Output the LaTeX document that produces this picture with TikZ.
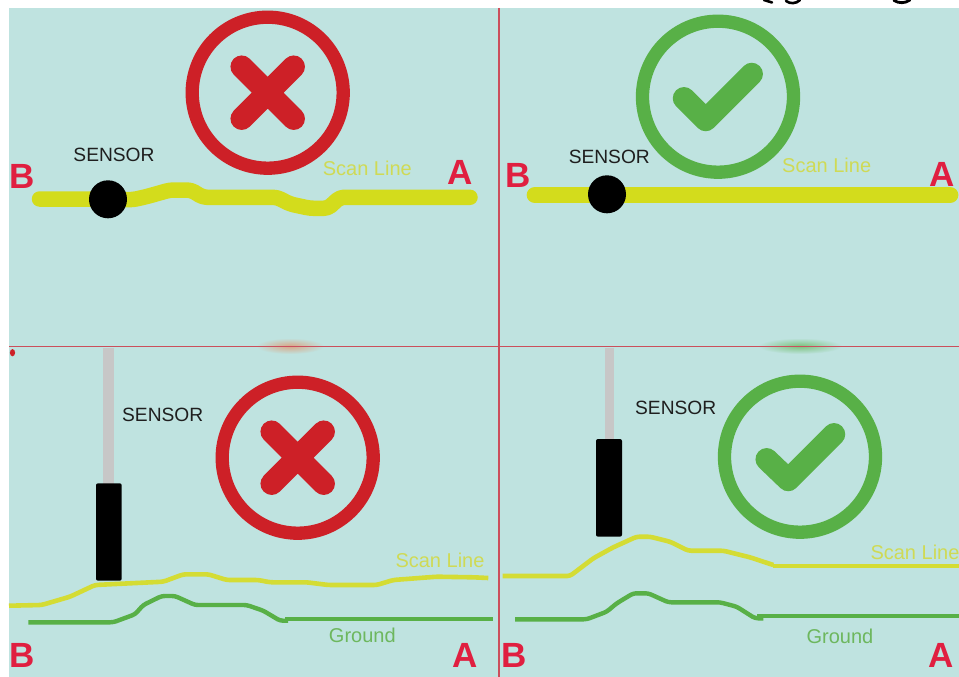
\documentclass[tikz,border=0pt]{standalone}
\usepackage{fontspec}
\setmainfont{Liberation Sans}
\definecolor{panelbg}{HTML}{BFE3E0}
\definecolor{crossred}{HTML}{CD2027}
\definecolor{letterred}{HTML}{E01F40}
\definecolor{okgreen}{HTML}{58B047}
\definecolor{scanyellow}{HTML}{D3DC1C}
\definecolor{thinyellow}{HTML}{D4DC34}
\definecolor{scantext}{HTML}{CFDA55}
\definecolor{groundtext}{HTML}{6DB75E}
\definecolor{rule}{HTML}{CB4F5C}
\tikzset{
  ring/.style={line width=13.3pt},
  markstroke/.style={line width=22.5pt,line cap=round,line join=round},
  thickscan/.style={draw=scanyellow,line width=15.5pt,line cap=round,line join=round,rounded corners=4pt},
  thinscan/.style={draw=thinyellow,line width=4.6pt,line join=round,rounded corners=3pt},
  groundline/.style={draw=okgreen,line width=4.4pt,line join=round,rounded corners=3pt},
  letter/.style={font=\fontsize{35}{35}\selectfont\bfseries,text=letterred,inner sep=0pt},
  sensorlabel/.style={font=\fontsize{19.2}{22}\selectfont,text=black!88,inner sep=0pt},
  scanlabel/.style={font=\fontsize{20}{22}\selectfont,text=scantext,inner sep=0pt},
  groundlabel/.style={font=\fontsize{20}{22}\selectfont,text=groundtext,inner sep=0pt},
  rod/.style={fill=black!22,draw=none},
  probe/.style={fill=black,draw=none,rounded corners=2pt},
  dot/.style={circle,fill=black,inner sep=0pt,minimum size=38pt}
}
\begin{document}
\begin{tikzpicture}[x=1pt,y=-1pt]
\useasboundingbox (0,0) rectangle (959,677);
\clip (0,0) rectangle (959,677);
\fill[white] (0,0) rectangle (959,677);
\fill[panelbg] (9,8) rectangle (959,677);
% cropped glyph tails along the top edge
\draw[black,line width=2.6pt,line cap=round] (764,0) -- (772,2.5);
\draw[black,line width=2.6pt,line cap=round] (786,1) .. controls (790,4) and (796,4) .. (800,0);
\draw[black,line width=2.8pt,line cap=round] (894,0.5) .. controls (899,3.5) and (905,3.5) .. (910,0);
% soft smudges at the horizontal divider
\shade[inner color=red!40!orange!40!panelbg,outer color=panelbg] (290,346) ellipse [x radius=34,y radius=8];
\shade[inner color=okgreen!65!panelbg,outer color=panelbg] (800,346) ellipse [x radius=42,y radius=8];
% dividers
\draw[rule,line width=1.8pt] (9,346.5) -- (959,346.5);
\draw[rule,line width=1.6pt] (498.7,8) -- (498.7,677);
\fill[crossred] (12.5,352.7) ellipse [x radius=2.6,y radius=3.6];
% rings
\draw[crossred,ring] (267.7,92.7) circle [radius=75.5];
\draw[okgreen,ring] (718,96.7) circle [radius=75.5];
\draw[crossred,ring] (297.7,457.7) circle [radius=75.5];
\draw[okgreen,ring] (800,456.7) circle [radius=75.5];
% crosses
\draw[crossred,markstroke] (241.7,66.7) -- (293.7,118.7) (293.7,66.7) -- (241.7,118.7);
\draw[crossred,markstroke] (271.7,431.7) -- (323.7,483.7) (323.7,431.7) -- (271.7,483.7);
% checks
\draw[okgreen,markstroke] (684,98.3) -- (705.7,120) -- (751.7,74);
\draw[okgreen,markstroke] (766.7,459.3) -- (788.3,480) -- (834,434.3);
% top-left wavy scan line
\draw[thickscan] (39.5,199) -- (88,199) -- (133,199.7) -- (147,196.5) -- (170,190) -- (191,190) -- (203,197.3) -- (277,197.3) -- (290,204) -- (310,208.3) -- (328,208.3) -- (340,197.3) -- (470,197.3);
% top-right straight scan line
\draw[thickscan,line width=16.7pt] (535,195) -- (950,195);
\node[dot] (dotL) at (108,199.3) {};
\node[dot] (dotR) at (607,194.3) {};
% probes
\fill[rod] (102.7,347.5) rectangle (114,484);
\fill[probe] (96,483.3) rectangle (121.7,580.7);
\fill[rod] (605,347.5) rectangle (614.3,440);
\fill[probe] (596,439) rectangle (622,536.7);
% bottom-left lines
\draw[thinscan] (9,605.7) -- (41.7,605) -- (70,596.7) -- (95,585) -- (163.3,581.7) -- (183.3,574.3) -- (208.3,574.3) -- (226.7,580) -- (258.3,580) -- (270,582.3) -- (306.7,582.3) -- (328.3,585) -- (376.7,585) -- (393.3,580) -- (436.7,576.7) -- (473.3,577.3) -- (488.3,578);
\draw[groundline] (28.3,622.3) -- (113.3,622.3) -- (135,614.3) -- (143.3,605) -- (161.7,596) -- (175,596) -- (195,605) -- (246.7,605) -- (263.3,610.7) -- (280,620.7) -- (288,620.7);
\draw[groundline] (285,618.7) -- (493.3,618.7);
% bottom-right lines
\draw[thinscan] (502.7,576) -- (570,576) -- (593.3,558.3) -- (613.3,547.3) -- (636.7,536.7) -- (650,536.7) -- (670,541.7) -- (688.3,550.7) -- (723.3,550.7) -- (750,557.3) -- (773.3,565);
\draw[thinscan] (773.3,566) -- (959,566);
\draw[groundline] (515,619.3) -- (586.7,619.3) -- (606.7,611.7) -- (616.7,603.3) -- (633.3,593.3) -- (648.3,593.3) -- (668.3,602.3) -- (720,602.3) -- (736.7,606.7) -- (755,618.3) -- (763.3,618.3);
\draw[groundline] (757,616) -- (959,616);
% labels
\node[letter] (b1) at (22,176) {B};
\node[letter] (a1) at (460,172) {A};
\node[letter] (b2) at (518,175) {B};
\node[letter] (a2) at (941.7,174) {A};
\node[letter] (b3) at (22,655) {B};
\node[letter] (a3) at (465,655) {A};
\node[letter] (b4) at (514,655) {B};
\node[letter] (a4) at (940.7,655) {A};
\node[sensorlabel] (s1) at (114,154.7) {SENSOR};
\node[sensorlabel] (s2) at (609.3,157.3) {SENSOR};
\node[sensorlabel] (s3) at (162.7,414.7) {SENSOR};
\node[sensorlabel] (s4) at (675.7,407.7) {SENSOR};
\node[scanlabel] (l1) at (367.3,168.7) {Scan Line};
\node[scanlabel] (l2) at (826.7,165.7) {Scan Line};
\node[scanlabel] (l3) at (440,560) {Scan Line};
\node[scanlabel] (l4) at (915,552.3) {Scan Line};
\node[groundlabel] (g3) at (362.3,635.7) {Ground};
\node[groundlabel] (g4) at (840,636) {Ground};
\end{tikzpicture}
\end{document}
